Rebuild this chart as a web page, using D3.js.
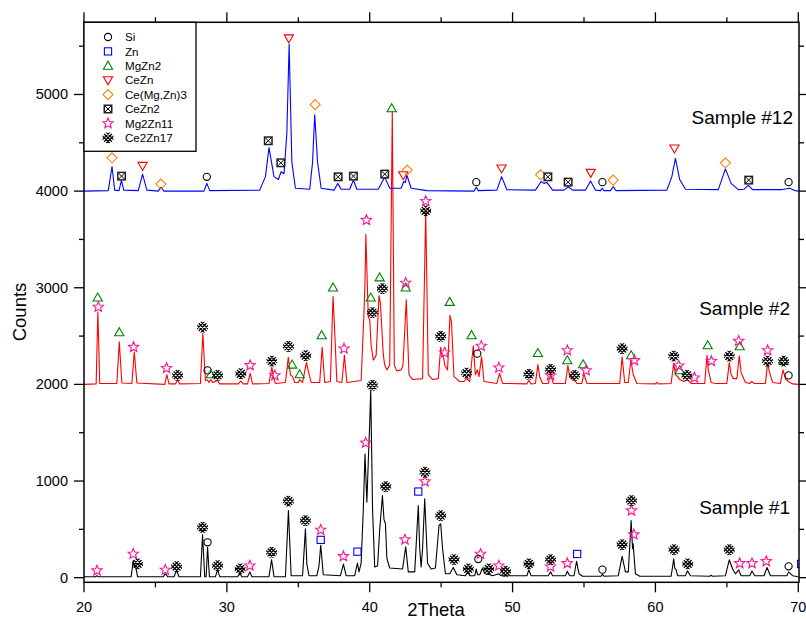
<!DOCTYPE html>
<html><head><meta charset="utf-8">
<script src="https://cdn.jsdelivr.net/npm/d3@7"></script>
<style>body{margin:0;background:#fff}svg{display:block;font-family:"Liberation Sans",Arial,sans-serif}</style>
</head><body><svg id="c" width="806" height="619"></svg>
<script>
// ---- data (2Theta, Counts as plotted; samples offset by the author) ----
const sampleNames = ["Sample #1", "Sample #2", "Sample #12"];
const sampleColors = ["#000000", "#ff0000", "#0000ff"];
const xTicks = [20, 30, 40, 50, 60, 70];
const yTicks = [0, 1000, 2000, 3000, 4000, 5000];

const sample12 = [[20,4000],[21.7,4005],[21.96,4255],[22.15,4010],[22.45,4005],[22.62,4110],[22.78,4010],[23.8,4005],[24.1,4175],[24.4,4010],[25.2,4000],[25.38,4040],[25.6,4000],[28.4,4000],[28.6,4080],[28.8,4005],[32.3,4010],[32.7,4150],[32.95,4450],[33.3,4150],[33.6,4120],[33.8,4200],[34.0,4180],[34.2,4600],[34.36,5520],[34.55,4300],[34.8,4030],[35.8,4020],[36.0,4300],[36.15,4790],[36.35,4300],[36.6,4030],[37.5,4010],[37.76,4080],[38.0,4020],[38.6,4020],[38.86,4115],[39.1,4020],[40.6,4020],[41.05,4145],[41.4,4030],[42.2,4030],[42.38,4100],[42.5,4090],[42.6,4165],[42.9,4030],[44,4005],[47.3,4000],[47.46,4040],[47.6,4005],[48.9,4010],[49.23,4150],[49.6,4015],[51.6,4010],[52.0,4100],[52.2,4080],[52.4,4090],[52.8,4010],[53.6,4010],[53.9,4045],[54.2,4010],[55.1,4010],[55.46,4105],[55.8,4010],[56.15,4005],[56.27,4030],[56.4,4005],[56.85,4005],[57.04,4045],[57.25,4005],[60.8,4010],[61.15,4150],[61.4,4340],[61.7,4120],[62.1,4020],[64.4,4015],[64.9,4230],[65.3,4080],[65.8,4015],[66.2,4020],[66.5,4060],[66.8,4015],[68.8,4015],[69.4,4030],[69.8,4005],[70,4000]];

const sample2 = [[20,2000],[20.85,2005],[20.97,2750],[21.03,2430],[21.1,2010],[22.3,2010],[22.47,2440],[22.65,2015],[23.35,2010],[23.52,2335],[23.7,2015],[25.65,2000],[25.8,2100],[25.95,2005],[26.4,2005],[26.55,2045],[26.7,2005],[28.15,2010],[28.32,2530],[28.4,2300],[28.5,2040],[28.65,2045],[28.75,2020],[28.88,2050],[29.0,2020],[29.35,2040],[29.5,2005],[30.8,2005],[30.98,2035],[31.15,2005],[31.45,2005],[31.63,2115],[31.8,2005],[32.95,2010],[33.15,2180],[33.25,2080],[33.4,2010],[34.1,2020],[34.3,2280],[34.45,2100],[34.6,2080],[34.75,2020],[35.0,2020],[35.1,2050],[35.3,2020],[35.57,2225],[35.7,2140],[35.9,2020],[36.5,2020],[36.67,2385],[36.85,2020],[37.25,2030],[37.43,2910],[37.52,2650],[37.7,2030],[38.05,2020],[38.23,2300],[38.4,2020],[39.4,2040],[39.6,2750],[39.67,3060],[39.73,3550],[39.9,2700],[40.0,2670],[40.1,2400],[40.25,2250],[40.45,2300],[40.65,2920],[40.75,2840],[40.85,2570],[40.95,2310],[41.05,2200],[41.2,2150],[41.4,2200],[41.58,4820],[41.72,2200],[41.9,2140],[42.2,2150],[42.33,2200],[42.56,2875],[42.75,2100],[43.0,2050],[43.7,2060],[43.92,3790],[44.1,2100],[44.4,2050],[44.8,2060],[44.97,2385],[45.05,2300],[45.15,2300],[45.25,2200],[45.45,2150],[45.62,2715],[45.72,2650],[45.9,2080],[46.3,2030],[46.6,2030],[46.78,2060],[47.0,2030],[47.25,2400],[47.4,2100],[47.53,2150],[47.65,2080],[47.83,2285],[48.0,2030],[48.9,2010],[49.09,2115],[49.3,2010],[51.0,2005],[51.14,2040],[51.3,2005],[51.6,2010],[51.77,2205],[51.9,2080],[52.1,2010],[52.5,2010],[52.66,2110],[52.85,2010],[53.7,2010],[53.87,2195],[54.0,2080],[54.36,2040],[54.5,2010],[54.85,2010],[54.99,2110],[55.2,2010],[57.5,2010],[57.67,2285],[57.85,2020],[58.1,2020],[58.28,2250],[58.45,2100],[58.7,2010],[60.0,2005],[60.1,2020],[60.2,2005],[61.1,2010],[61.28,2220],[61.4,2100],[61.55,2080],[61.7,2050],[62.0,2030],[62.24,2050],[62.5,2010],[63.45,2010],[63.61,2300],[63.7,2150],[63.9,2020],[64.2,2010],[65.0,2010],[65.17,2225],[65.3,2100],[65.45,2060],[65.7,2060],[65.87,2295],[66.0,2120],[66.3,2020],[66.6,2010],[66.75,2030],[66.9,2010],[67.7,2010],[67.85,2215],[68.0,2120],[68.2,2020],[68.75,2010],[68.93,2150],[69.1,2060],[69.3,2030],[69.6,2005],[70,2000]];

const sample1 = [[20,10],[20.8,10],[20.9,20],[21.0,10],[23.3,10],[23.45,175],[23.53,110],[23.6,125],[23.75,10],[25.55,10],[25.7,40],[25.85,10],[26.3,10],[26.48,75],[26.65,10],[28.15,10],[28.3,445],[28.45,10],[28.55,10],[28.65,315],[28.78,10],[29.2,10],[29.35,80],[29.5,10],[30.75,10],[30.91,40],[31.05,10],[31.45,10],[31.61,60],[31.75,10],[32.95,10],[33.13,185],[33.3,10],[34.1,10],[34.31,695],[34.5,20],[35.3,20],[35.5,505],[35.6,140],[35.75,20],[36.3,20],[36.45,120],[36.57,335],[36.75,30],[37.95,20],[38.16,140],[38.35,20],[38.95,20],[39.14,150],[39.25,60],[39.4,150],[39.55,700],[39.67,1280],[39.8,780],[39.9,1200],[40.0,1600],[40.07,1940],[40.2,700],[40.35,110],[40.55,120],[40.7,500],[40.89,850],[41.0,600],[41.1,560],[41.2,200],[41.4,100],[42.3,90],[42.52,320],[42.7,60],[43.15,60],[43.4,745],[43.5,300],[43.6,110],[43.7,300],[43.85,815],[44.05,150],[44.3,90],[44.6,100],[44.85,540],[44.97,556],[45.1,300],[45.3,40],[45.6,40],[45.85,105],[46.1,30],[46.7,20],[46.87,60],[47.0,20],[47.35,20],[47.46,90],[47.55,30],[47.7,30],[47.9,100],[48.05,40],[48.4,30],[48.6,20],[49.04,40],[49.2,20],[49.5,20],[51.0,20],[51.14,80],[51.3,20],[52.5,20],[52.66,60],[52.8,20],[53.7,20],[53.83,65],[54.0,20],[54.3,20],[54.48,170],[54.65,40],[54.9,15],[56.2,15],[56.29,35],[56.4,15],[57.4,20],[57.67,220],[57.9,60],[58.1,60],[58.3,590],[58.4,300],[58.44,350],[58.6,40],[58.9,15],[61.1,15],[61.28,195],[61.35,100],[61.45,80],[61.55,20],[62.1,20],[62.24,70],[62.45,20],[63.8,15],[63.9,25],[64.0,15],[64.9,20],[65.17,185],[65.4,90],[65.6,40],[65.83,80],[66.0,20],[66.6,20],[66.76,70],[66.95,20],[67.6,20],[67.81,105],[68.05,20],[69.2,20],[69.32,60],[69.6,20],[70,10]];

// phase markers [2Theta, Counts]
const phaseNames = ["Si", "Zn", "MgZn2", "CeZn", "Ce(Mg,Zn)3", "CeZn2", "Mg2Zn11", "Ce2Zn17"];
const markSi = [[28.6,4148],[47.46,4093],[56.29,4093],[69.32,4093],[28.65,2145],[47.53,2318],[69.32,2093],[28.65,366],[47.6,193],[56.29,83],[69.32,117]];
const markZn = [[36.57,391],[39.14,269],[43.4,891],[54.52,245],[70.2,142]];
const markMgZn2 = [[41.54,4857],[20.96,2898],[22.47,2539],[28.88,2104],[34.57,2204],[35.1,2104],[36.64,2508],[37.43,3002],[40.07,2898],[40.7,3106],[42.52,3002],[45.6,2853],[47.13,2508],[51.77,2324],[53.83,2249],[54.94,2207],[58.3,2300],[61.7,2145],[63.66,2404],[65.9,2393],[68.97,2241]];
const markCeZn = [[24.1,4262],[34.34,5582],[42.35,4166],[49.23,4235],[55.47,4190],[61.33,4442]];
const markCeMgZn3 = [[21.96,4345],[25.38,4073],[36.18,4895],[42.63,4218],[51.96,4169],[57.04,4114],[64.9,4293]];
const markCeZn2 = [[22.63,4155],[32.9,4521],[33.78,4293],[37.79,4148],[38.86,4155],[41.05,4176],[52.47,4148],[53.89,4093],[66.53,4114]];
const markMg2Zn11 = [[21.0,2801],[23.47,2386],[25.78,2168],[31.63,2197],[33.36,2093],[38.2,2370],[39.77,3700],[42.52,3050],[43.92,3896],[45.25,2328],[47.81,2397],[49.04,2173],[52.66,2093],[53.83,2352],[55.15,2145],[58.53,2249],[61.63,2193],[62.73,2069],[63.92,2241],[65.83,2449],[67.85,2352],[20.91,73],[23.45,245],[25.69,80],[31.61,124],[36.57,494],[38.16,221],[39.72,1396],[42.47,394],[43.87,995],[47.76,245],[49.04,124],[52.66,114],[53.83,148],[58.32,694],[58.49,446],[65.9,148],[66.76,148],[67.76,169]];
const markCe2Zn17 = [[26.55,2093],[28.3,2593],[29.35,2093],[30.98,2110],[33.15,2241],[34.31,2393],[35.52,2297],[40.19,2743],[40.89,2992],[43.92,3796],[44.97,2497],[46.78,2117],[51.14,2104],[52.66,2155],[54.34,2093],[57.67,2370],[61.28,2293],[62.21,2093],[65.17,2293],[67.85,2241],[68.97,2241],[23.75,142],[26.48,114],[28.3,521],[29.35,124],[30.93,90],[33.13,262],[34.31,791],[35.5,591],[40.19,1990],[41.12,943],[43.87,1091],[44.97,642],[45.9,187],[46.9,90],[48.34,90],[49.51,66],[51.14,142],[52.66,187],[57.67,342],[58.32,798],[61.3,290],[62.26,142],[65.17,290]];

// ---- drawing ----
const svg = d3.select("#c");
const L = 84, R = 799, T = 22.3, B = 582.3;
const x = d3.scaleLinear().domain([20, 70.05]).range([L, R]);
const y = d3.scaleLinear().domain([-48, 5747]).range([B, T]);

const defs = svg.append("defs");
defs.append("clipPath").attr("id", "plot").append("rect")
  .attr("x", L).attr("y", T).attr("width", R - L).attr("height", B - T);
defs.append("clipPath").attr("id", "oct").attr("clipPathUnits", "userSpaceOnUse").append("path")
  .attr("d", "M-2.4,-5.4L2.4,-5.4L5.4,-2.4L5.4,2.4L2.4,5.4L-2.4,5.4L-5.4,2.4L-5.4,-2.4Z");

const line = d3.line().x(d => x(d[0])).y(d => y(d[1]));
const gPlot = svg.append("g").attr("clip-path", "url(#plot)");
[sample1, sample2, sample12].forEach((s, i) => {
  gPlot.append("path").datum(s).attr("d", line).attr("fill", "none")
    .attr("stroke", sampleColors[i]).attr("stroke-width", 1.1).attr("stroke-linejoin", "round");
});

// marker renderers
function drawMarker(g, type, cx, cy) {
  const e = g.append("g").attr("transform", `translate(${cx},${cy})`);
  switch (type) {
    case 0: e.append("circle").attr("r", 3.6).attr("fill", "none").attr("stroke", "#000").attr("stroke-width", 1.1); break;
    case 1: e.append("rect").attr("x", -3.6).attr("y", -3.6).attr("width", 7.2).attr("height", 7.2).attr("fill", "none").attr("stroke", "#0000ff").attr("stroke-width", 1.1); break;
    case 2: e.append("path").attr("d", "M0,-4.6L4.6,3.4L-4.6,3.4Z").attr("fill", "none").attr("stroke", "#008000").attr("stroke-width", 1.1); break;
    case 3: e.append("path").attr("d", "M0,4.6L4.6,-3.4L-4.6,-3.4Z").attr("fill", "none").attr("stroke", "#ff0000").attr("stroke-width", 1.1); break;
    case 4: e.append("path").attr("d", "M0,-5L5,0L0,5L-5,0Z").attr("fill", "none").attr("stroke", "#ff8000").attr("stroke-width", 1.1); break;
    case 5:
      e.append("rect").attr("x", -4.5).attr("y", -4.5).attr("width", 9).attr("height", 9).attr("fill", "#222");
      e.append("rect").attr("x", -3).attr("y", -3).attr("width", 6).attr("height", 6).attr("fill", "#fff");
      e.append("path").attr("d", "M-3,-3L3,3M3,-3L-3,3").attr("stroke", "#000").attr("stroke-width", 1);
      break;
    case 6: {
      const pts = d3.range(10).map(k => { const r = k % 2 ? 2.4 : 5.4, a = -Math.PI / 2 + k * Math.PI / 5; return [r * Math.cos(a), r * Math.sin(a)]; });
      e.append("path").attr("d", "M" + pts.join("L") + "Z").attr("fill", "none").attr("stroke", "#ff1493").attr("stroke-width", 1.1);
      break;
    }
    case 7: {
      const h = e.append("g").attr("clip-path", "url(#oct)");
      const c = 3.7;
      h.append("path")
        .attr("d", `M-6,-6L6,6M-6,${-6 + c}L${6 - c},6M${-6 + c},-6L6,${6 - c}M6,-6L-6,6M6,${-6 + c}L${-6 + c},6M${6 - c},-6L-6,${6 - c}`)
        .attr("stroke", "#000").attr("stroke-width", 1.25).attr("fill", "none");
      break;
    }
  }
}
const markSets = [markSi, markZn, markMgZn2, markCeZn, markCeMgZn3, markCeZn2, markMg2Zn11, markCe2Zn17];
const gMarks = svg.append("g").attr("clip-path", "url(#plot)");
markSets.forEach((set, t) => set.forEach(d => drawMarker(gMarks, t, x(d[0]), y(d[1]))));

// axes
const minorX = d3.range(25, 70, 10);
const minorY = d3.range(500, 5747, 1000);
const axisG = svg.append("g").attr("stroke", "#000").attr("stroke-width", 1.3);
function tickX(v, len, dir, yy) { axisG.append("line").attr("x1", x(v)).attr("x2", x(v)).attr("y1", yy).attr("y2", yy + dir * len); }
function tickY(v, len, dir, xx) { axisG.append("line").attr("y1", y(v)).attr("y2", y(v)).attr("x1", xx).attr("x2", xx + dir * len); }
xTicks.forEach(v => { tickX(v, 10, 1, B); tickX(v, 10, -1, T); });
minorX.forEach(v => { tickX(v, 5, 1, B); tickX(v, 5, -1, T); });
yTicks.forEach(v => { tickY(v, 10, -1, L); tickY(v, 10, 1, R); });
minorY.forEach(v => { tickY(v, 5, -1, L); tickY(v, 5, 1, R); });
svg.append("rect").attr("x", L).attr("y", T).attr("width", R - L).attr("height", B - T)
  .attr("fill", "none").attr("stroke", "#000").attr("stroke-width", 1.5);

svg.append("g").selectAll("text").data(xTicks).join("text")
  .attr("x", d => x(d)).attr("y", 612).attr("text-anchor", "middle").attr("font-size", 14.5).text(d => d);
svg.append("g").selectAll("text").data(yTicks).join("text")
  .attr("x", 68).attr("y", d => y(d) + 5).attr("text-anchor", "end").attr("font-size", 14.5).text(d => d);

svg.append("text").attr("x", 436).attr("y", 616).attr("text-anchor", "middle").attr("font-size", 18.5).text("2Theta");
svg.append("text").attr("transform", "translate(26,312) rotate(-90)").attr("text-anchor", "middle").attr("font-size", 18.5).text("Counts");

// sample labels
const sampleLabelPos = [[790, 514], [790, 315], [793, 124]];
sampleNames.forEach((n, i) => svg.append("text").attr("x", sampleLabelPos[i][0]).attr("y", sampleLabelPos[i][1])
  .attr("text-anchor", "end").attr("font-size", 19).text(n));

// legend
const lg = svg.append("g");
lg.append("rect").attr("x", L).attr("y", T).attr("width", 112).attr("height", 129)
  .attr("fill", "#fff").attr("stroke", "#000").attr("stroke-width", 1.3);
phaseNames.forEach((n, i) => {
  const yy = 37 + i * 14.4;
  drawMarker(lg, i, 108, yy);
  lg.append("text").attr("x", 125).attr("y", yy + 4.2).attr("font-size", 11.6).text(n);
});
</script></body></html>
